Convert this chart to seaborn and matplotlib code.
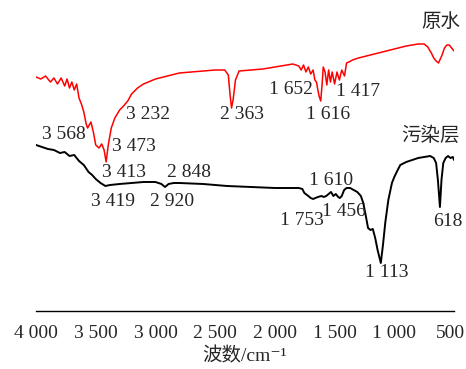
import numpy as np
import pandas as pd
import seaborn as sns
import matplotlib.pyplot as plt
from matplotlib.ticker import MultipleLocator
from matplotlib.transforms import ScaledTranslation

# Raw water spectrum (wavenumber, relative transmittance)
raw_wn = [4000, 3960, 3920, 3880, 3850, 3820, 3790, 3760, 3740, 3720, 3700, 3680, 3660,
          3640, 3620, 3600, 3580, 3568, 3540, 3520, 3500, 3473, 3450, 3430, 3413, 3395,
          3370, 3340, 3300, 3260, 3232, 3200, 3150, 3100, 3000, 2900, 2800, 2700, 2600,
          2500, 2420, 2390, 2375, 2363, 2350, 2330, 2300, 2200, 2100, 2000, 1900, 1850,
          1800, 1780, 1760, 1740, 1720, 1700, 1680, 1665, 1652, 1640, 1630, 1616, 1605,
          1595, 1580, 1565, 1550, 1535, 1520, 1500, 1480, 1460, 1440, 1417, 1400, 1380,
          1350, 1300, 1200, 1100, 1000, 900, 800, 750, 720, 690, 670, 650, 630, 600, 580,
          560, 540, 520, 500]
raw_t = [234, 232, 235, 229, 233, 227, 233, 225, 232, 223, 229, 221, 227,
         213, 207, 199, 187, 183, 189, 179, 166, 163, 167, 161, 149, 166,
         183, 193, 201, 206, 210, 217, 223, 227, 232, 235, 238, 239, 240,
         241, 241, 236, 216, 203, 211, 231, 240, 241, 242, 244, 246, 247,
         245, 241, 246, 239, 244, 237, 241, 231, 229, 221, 215, 210, 226,
         244, 239, 226, 241, 229, 239, 227, 239, 231, 241, 235, 248, 249,
         251, 253, 256, 259, 262, 265, 267, 267, 264, 258, 253, 250, 248, 256, 263,
         266, 266, 263, 260]

# Polluted layer spectrum
pol_wn = [4000, 3900, 3850, 3800, 3760, 3720, 3680, 3640, 3600, 3560, 3530, 3500, 3460,
          3419, 3380, 3300, 3200, 3100, 3000, 2950, 2920, 2890, 2848, 2800, 2600, 2400,
          2200, 2000, 1900, 1800, 1770, 1753, 1720, 1700, 1680, 1660, 1640, 1610, 1590,
          1570, 1550, 1530, 1510, 1490, 1470, 1456, 1440, 1420, 1400, 1370, 1340, 1310,
          1280, 1260, 1240, 1220, 1200, 1180, 1160, 1140, 1113, 1095, 1075, 1050, 1020,
          1000, 980, 950, 900, 850, 800, 750, 700, 670, 650, 635, 618, 605, 590, 570,
          550, 530, 510, 500]
pol_t = [166, 162, 161, 158, 159, 155, 156, 150, 146, 139, 136, 132, 128,
         125, 126, 127, 128, 129, 129, 127, 124, 127, 128, 128, 127, 125,
         124, 123, 123, 123, 122, 118, 115, 113, 112, 113, 114, 115, 114,
         115, 117, 119, 115, 117, 114, 113, 115, 121, 123, 123, 121, 119,
         115, 108, 96, 83, 81, 82, 73, 61, 48, 66, 89, 111, 128,
         134, 139, 146, 149, 151, 153, 154, 155, 153, 148, 131, 104, 131, 148, 153,
         155, 153, 154, 151]

# Peak labels: (text, x, y)
raw_labels = ['3 568', '3 473', '3 232', '2 363', '1 652', '1 616', '1 417']
raw_lx = [3766, 3179, 3062, 2279, 1865, 1555, 1304]
raw_ly = [176, 164, 196, 196, 221, 196, 219]
pol_labels = ['3 413', '2 848', '3 419', '2 920', '1 610', '1 753', '1 456', '1 113', '618']
pol_lx = [3263, 2719, 3355, 2861, 1530, 1773, 1421, 1061, 550]
pol_ly = [138, 138, 109, 109, 130, 90, 99, 38, 89]

xticks = [4000, 3500, 3000, 2500, 2000, 1500, 1000, 500]
xtick_labels = ['4 000', '3 500', '3 000', '2 500', '2 000', '1 500', '1 000', '500']

sns.set_style('white')
plt.rcParams['font.family'] = ['Liberation Serif', 'Noto Sans CJK SC', 'DejaVu Serif']
fs = 14

fig = plt.figure(figsize=(4.66, 3.69), dpi=100)
ax = fig.add_axes([0.0773, 0.1572, 0.8970, 0.8157])

raw = pd.DataFrame({'wn': raw_wn, 't': raw_t})
pol = pd.DataFrame({'wn': pol_wn, 't': pol_t})
sns.lineplot(data=raw, x='wn', y='t', color='red', linewidth=1.1, ax=ax)
sns.lineplot(data=pol, x='wn', y='t', color='black', linewidth=1.4, ax=ax)

for s, x, y in zip(raw_labels, raw_lx, raw_ly):
    ax.text(x, y, s, fontsize=fs, ha='center', va='center')
for s, x, y in zip(pol_labels, pol_lx, pol_ly):
    ax.text(x, y, s, fontsize=fs, ha='center', va='center')
ax.text(609, 289, '原水', fontsize=fs, ha='center', va='center', clip_on=False)
ax.text(701, 175, '污染层', fontsize=fs, ha='center', va='center')

ax.set_xlim(4000, 500)
ax.set_ylim(0, 301)
ax.set_xticks(xticks)
ax.set_xticklabels(xtick_labels, fontsize=fs)
ax.xaxis.set_minor_locator(MultipleLocator(250))
ax.tick_params(axis='x', which='major', direction='in', length=6, width=1, pad=10)
ax.tick_params(axis='x', which='minor', direction='in', length=3, width=1)
# last label sits at the right edge, nudge it in a little
last = ax.get_xticklabels()[-1]
last.set_transform(last.get_transform() + ScaledTranslation(-4 / 100, 0, fig.dpi_scale_trans))
ax.set_yticks([])
for side in ['left', 'right', 'top']:
    ax.spines[side].set_visible(False)
ax.spines['bottom'].set_color('black')
ax.spines['bottom'].set_linewidth(1)
ax.set_xlabel('波数/cm⁻¹', fontsize=fs, labelpad=4)
ax.set_ylabel('')

fig.savefig('out.png', dpi=100)
